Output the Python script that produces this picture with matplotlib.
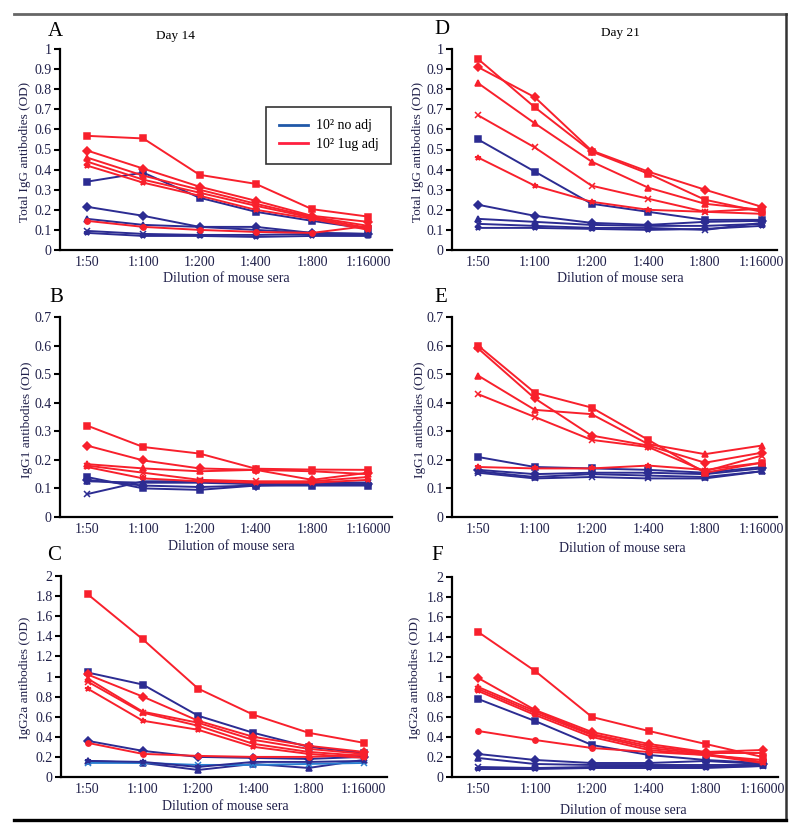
import matplotlib.pyplot as plt
from matplotlib.lines import Line2D

plt.rcParams['font.family'] = ['Liberation Serif', 'DejaVu Serif']

dilutions = ['1:50', '1:100', '1:200', '1:400', '1:800', '1:16000']

# A - Day 14, total IgG
a_red = [[0.568, 0.555, 0.374, 0.329, 0.203, 0.166],
         [0.495, 0.405, 0.315, 0.245, 0.170, 0.140],
         [0.460, 0.370, 0.300, 0.230, 0.165, 0.120],
         [0.440, 0.350, 0.285, 0.220, 0.160, 0.110],
         [0.420, 0.335, 0.270, 0.200, 0.155, 0.100],
         [0.145, 0.115, 0.100, 0.090, 0.085, 0.120]]
a_blue = [[0.340, 0.385, 0.260, 0.190, 0.145, 0.105],
          [0.215, 0.170, 0.115, 0.115, 0.085, 0.080],
          [0.155, 0.125, 0.115, 0.100, 0.085, 0.080],
          [0.095, 0.080, 0.075, 0.075, 0.080, 0.075],
          [0.085, 0.070, 0.070, 0.065, 0.070, 0.070]]

# D - Day 21, total IgG
d_red = [[0.950, 0.710, 0.490, 0.380, 0.250, 0.190],
         [0.910, 0.760, 0.495, 0.390, 0.300, 0.215],
         [0.830, 0.630, 0.440, 0.310, 0.230, 0.200],
         [0.670, 0.510, 0.320, 0.255, 0.190, 0.205],
         [0.460, 0.320, 0.240, 0.200, 0.190, 0.180]]
d_blue = [[0.550, 0.390, 0.230, 0.190, 0.150, 0.150],
          [0.225, 0.170, 0.135, 0.125, 0.140, 0.145],
          [0.155, 0.140, 0.125, 0.120, 0.120, 0.130],
          [0.130, 0.120, 0.110, 0.110, 0.100, 0.135],
          [0.110, 0.110, 0.105, 0.100, 0.105, 0.120]]

# B - Day 14, IgG1
b_red = [[0.320, 0.245, 0.222, 0.169, 0.166, 0.165],
         [0.250, 0.198, 0.170, 0.165, 0.130, 0.155],
         [0.185, 0.170, 0.160, 0.165, 0.160, 0.150],
         [0.180, 0.155, 0.130, 0.125, 0.125, 0.140],
         [0.175, 0.135, 0.125, 0.120, 0.120, 0.130]]
b_blue = [[0.140, 0.100, 0.095, 0.110, 0.110, 0.110],
          [0.130, 0.110, 0.105, 0.110, 0.115, 0.115],
          [0.125, 0.120, 0.120, 0.115, 0.120, 0.120],
          [0.080, 0.125, 0.125, 0.115, 0.120, 0.120]]

# E - Day 21, IgG1
e_red = [[0.600, 0.435, 0.383, 0.270, 0.155, 0.190],
         [0.590, 0.415, 0.285, 0.250, 0.190, 0.225],
         [0.495, 0.375, 0.360, 0.255, 0.220, 0.250],
         [0.430, 0.350, 0.270, 0.245, 0.160, 0.215],
         [0.175, 0.170, 0.170, 0.180, 0.165, 0.190]]
e_blue = [[0.210, 0.175, 0.170, 0.165, 0.155, 0.175],
          [0.165, 0.150, 0.155, 0.155, 0.150, 0.170],
          [0.160, 0.140, 0.150, 0.145, 0.140, 0.160],
          [0.155, 0.135, 0.140, 0.135, 0.135, 0.160]]

# C - Day 14, IgG2a
c_red = [[1.820, 1.370, 0.880, 0.620, 0.440, 0.340],
         [1.020, 0.800, 0.560, 0.400, 0.310, 0.250],
         [0.980, 0.650, 0.540, 0.370, 0.280, 0.230],
         [0.950, 0.640, 0.510, 0.330, 0.250, 0.210],
         [0.880, 0.560, 0.470, 0.300, 0.230, 0.190],
         [0.340, 0.230, 0.210, 0.200, 0.200, 0.220]]
c_blue = [[1.040, 0.920, 0.610, 0.440, 0.300, 0.240],
          [0.360, 0.260, 0.200, 0.190, 0.180, 0.200],
          [0.160, 0.140, 0.070, 0.130, 0.090, 0.170],
          [0.140, 0.140, 0.120, 0.120, 0.130, 0.140],
          [0.160, 0.150, 0.100, 0.150, 0.150, 0.160]]

# F - Day 21, IgG2a
f_red = [[1.450, 1.060, 0.600, 0.460, 0.330, 0.200],
         [0.990, 0.670, 0.450, 0.330, 0.250, 0.270],
         [0.900, 0.660, 0.430, 0.310, 0.240, 0.240],
         [0.880, 0.640, 0.420, 0.290, 0.230, 0.150],
         [0.860, 0.620, 0.400, 0.270, 0.220, 0.140],
         [0.460, 0.370, 0.290, 0.250, 0.220, 0.170]]
f_blue = [[0.780, 0.560, 0.320, 0.220, 0.170, 0.140],
          [0.230, 0.170, 0.140, 0.140, 0.160, 0.130],
          [0.190, 0.130, 0.120, 0.120, 0.120, 0.120],
          [0.100, 0.090, 0.100, 0.110, 0.100, 0.110],
          [0.080, 0.080, 0.090, 0.090, 0.090, 0.110]]

RED = '#f8202c'
BLUE = '#2c2c92'
LIGHTBLUE = '#2a7fd0'
TXT = '#20204a'
markers = ['s', 'D', '^', 'x', '*', 'o']

W, H = 800, 832
fig = plt.figure(figsize=(8, 8.32), dpi=100)


def px_axes(left, top, right, bottom):
    return fig.add_axes([left / W, 1 - bottom / H, (right - left) / W, (bottom - top) / H])


def fig_text(x, y, s, **kw):
    fig.text(x / W, 1 - y / H, s, ha='center', va='center', **kw)


def panel(box, red, blue, ymax, ystep, xlim, light=None):
    ax = px_axes(*box)
    x = list(range(len(dilutions)))
    for i, row in enumerate(blue):
        col = LIGHTBLUE if i == light else BLUE
        ax.plot(x, row, color=col, lw=1.4, marker=markers[i % 6], ms=3.8, mew=1.1)
    for i, row in enumerate(red):
        ax.plot(x, row, color=RED, lw=1.4, marker=markers[i % 6], ms=3.8, mew=1.1)
    ax.set_xlim(*xlim)
    ax.set_ylim(0, ymax)
    n = int(round(ymax / ystep))
    ticks = [round(k * ystep, 2) for k in range(n + 1)]
    ax.set_yticks(ticks)
    ax.set_yticklabels(['%g' % t for t in ticks])
    ax.set_xticks(x)
    ax.set_xticklabels(dilutions)
    for s in ['top', 'right']:
        ax.spines[s].set_visible(False)
    for s in ['left', 'bottom']:
        ax.spines[s].set_linewidth(1.6)
    ax.tick_params(axis='y', length=4, width=1.5, labelsize=10, labelcolor=TXT, pad=2)
    ax.tick_params(axis='x', length=0, labelsize=10, labelcolor=TXT, pad=4)
    return ax


left_x = (-0.48, 5.42)
right_x = (-0.46, 5.27)

ax_a = panel((60, 49, 392, 250), a_red, a_blue, 1.0, 0.1, left_x)
ax_d = panel((452, 49, 777, 250), d_red, d_blue, 1.0, 0.1, right_x)
ax_b = panel((60, 317, 392, 517), b_red, b_blue, 0.7, 0.1, left_x)
ax_e = panel((452, 317, 777, 517), e_red, e_blue, 0.7, 0.1, right_x)
ax_c = panel((61, 576, 387, 777), c_red, c_blue, 2.0, 0.2, left_x, light=3)
ax_f = panel((452, 577, 778, 777), f_red, f_blue, 2.0, 0.2, right_x)

# axis titles
fig_text(25, 152, 'Total IgG antibodies (OD)', rotation=90, fontsize=9.5, color=TXT)
fig_text(418, 152, 'Total IgG antibodies (OD)', rotation=90, fontsize=9.5, color=TXT)
fig_text(27, 420, 'IgG1 antibodies (OD)', rotation=90, fontsize=9.5, color=TXT)
fig_text(420, 420, 'IgG1 antibodies (OD)', rotation=90, fontsize=9.5, color=TXT)
fig_text(25, 678, 'IgG2a antibodies (OD)', rotation=90, fontsize=9.5, color=TXT)
fig_text(415, 678, 'IgG2a antibodies (OD)', rotation=90, fontsize=9.5, color=TXT)

fig_text(226, 278, 'Dilution of mouse sera', fontsize=10, color=TXT)
fig_text(620, 279, 'Dilution of mouse sera', fontsize=10, color=TXT)
fig_text(231, 546, 'Dilution of mouse sera', fontsize=10, color=TXT)
fig_text(622, 548, 'Dilution of mouse sera', fontsize=10, color=TXT)
fig_text(225, 806, 'Dilution of mouse sera', fontsize=10, color=TXT)
fig_text(623, 811, 'Dilution of mouse sera', fontsize=10, color=TXT)

# panel letters and day headers
for lx, ly, s in [(55, 32, 'A'), (442, 30, 'D'), (56, 298, 'B'),
                  (441, 298, 'E'), (54, 556, 'C'), (437, 555, 'F')]:
    fig_text(lx, ly, s, fontsize=15, color='black')
fig_text(175, 36, 'Day 14', fontsize=9.5, color='black')
fig_text(620, 33, 'Day 21', fontsize=9.5, color='black')

# legend in panel A
handles = [Line2D([], [], color='#2058a8', lw=2), Line2D([], [], color='#ff2040', lw=2)]
leg = fig.legend(handles, ['10² no adj', '10² 1ug adj'], loc='upper left',
                 bbox_to_anchor=(266 / W, 1 - 107 / H), fontsize=10,
                 frameon=True, fancybox=False, edgecolor='black',
                 handlelength=2.1, borderpad=0.9, labelspacing=0.4,
                 handletextpad=0.6, borderaxespad=0)
leg.get_frame().set_linewidth(1.2)

# outer frame lines
fig.add_artist(Line2D([14 / W, 786 / W], [1 - 14 / H, 1 - 14 / H], color='#666666', lw=2))
fig.add_artist(Line2D([786 / W, 786 / W], [1 - 14 / H, 1 - 820 / H], color='#333333', lw=1.8))
fig.add_artist(Line2D([14 / W, 786 / W], [1 - 820 / H, 1 - 820 / H], color='black', lw=2.4))

fig.savefig('out.png', dpi=100)
